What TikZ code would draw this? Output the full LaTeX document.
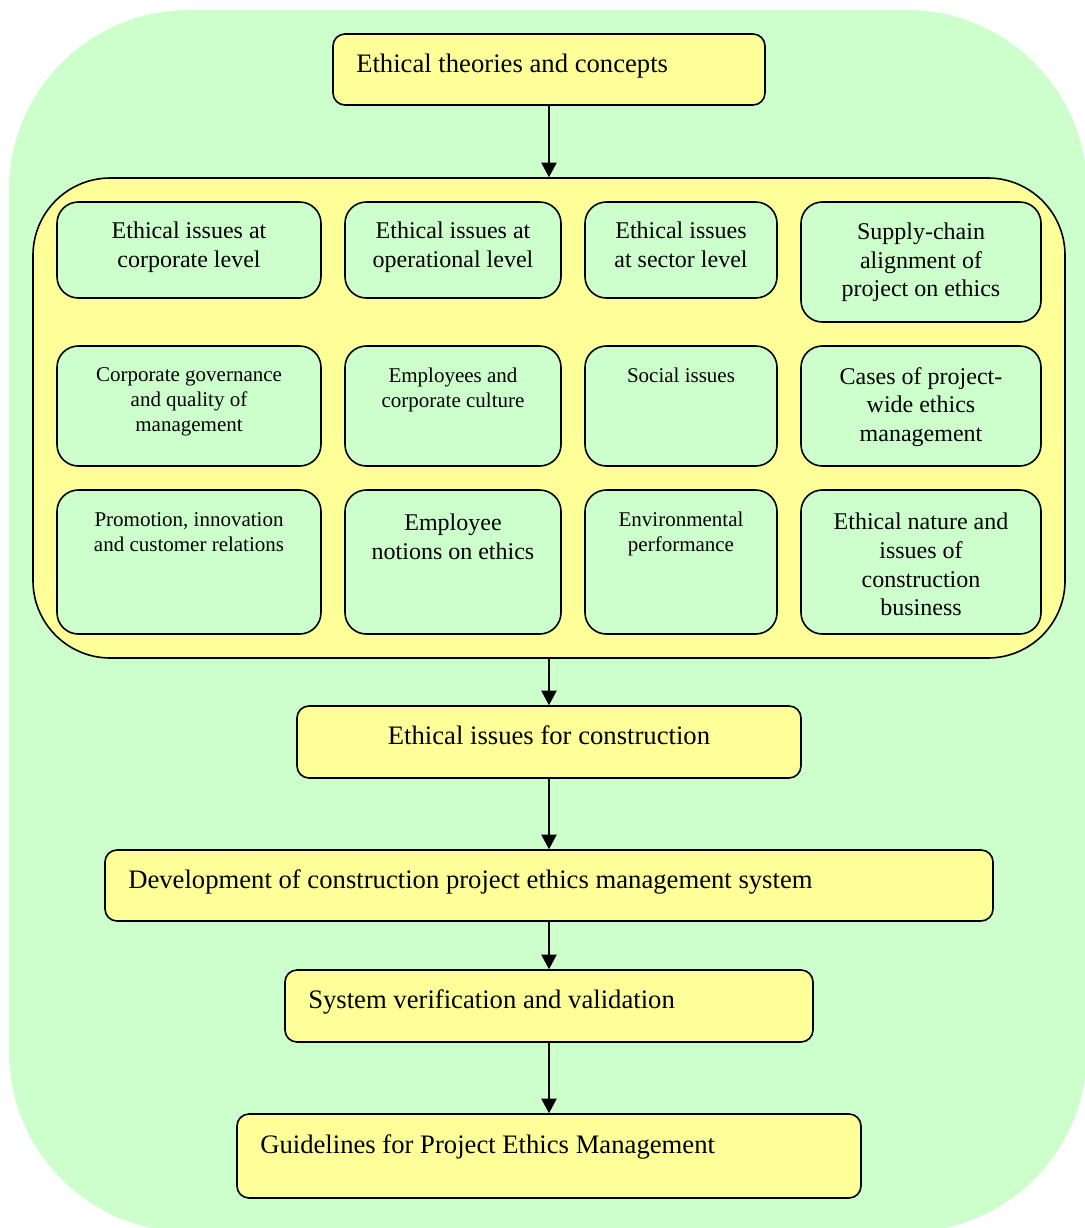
\documentclass[tikz,border=0pt]{standalone}
\usepackage{fontspec}
\setmainfont{Liberation Serif}
\usetikzlibrary{fit,arrows.meta}
\definecolor{bggreen}{RGB}{204,255,204}
\definecolor{boxyellow}{RGB}{255,255,153}
\tikzset{
  flowbox/.style={draw, line width=1.2pt, fill=boxyellow, rounded corners=9pt, inner sep=0pt},
  issuebox/.style={draw, line width=1.2pt, fill=bggreen, rounded corners=16pt, inner sep=0pt},
  bigtext/.style={inner sep=0pt, font=\fontsize{20}{24}\selectfont},
  midtext/.style={inner sep=0pt, align=center, font=\fontsize{18}{21.5}\selectfont},
  smalltext/.style={inner sep=0pt, align=center, font=\fontsize{15.75}{18.75}\selectfont},
  flowarrow/.style={-{Triangle[length=11pt,width=11.5pt]}, line width=1.1pt},
}
\begin{document}
\begin{tikzpicture}[x=0.75pt,y=0.75pt,yscale=-1,xscale=1]
                \useasboundingbox (0,0) rectangle (1085,1228);
                \clip (0,0) rectangle (1085,1228);
                \fill [bggreen, rounded corners=135pt] (9,10) rectangle (1087,1232);
                % top of the flow
                \node [flowbox, fit={(333,34) (765,105)}] (theory) {};
                \node [bigtext, anchor=base west] (theorytxt) at (356,72) {Ethical theories and concepts};
                \node [flowbox, rounded corners=58pt, fit={(33,178) (1065,658)}] (issues) {};
                % first row
                \node [issuebox, fit={(57,202) (321,298)}] (corporate) {};
                \node [midtext, anchor=north] (corporatetxt) at (189,222) {Ethical issues at\\corporate level};
                \node [issuebox, fit={(345,202) (561,298)}] (operational) {};
                \node [midtext, anchor=north] (operationaltxt) at (453,222) {Ethical issues at\\operational level};
                \node [issuebox, fit={(585,202) (777,298)}] (sector) {};
                \node [midtext, anchor=north] (sectortxt) at (681,222) {Ethical issues\\at sector level};
                \node [issuebox, fit={(801,202) (1041,322)}] (supply) {};
                \node [midtext, anchor=north] (supplytxt) at (921,222.5) {Supply-chain\\alignment of\\project on ethics};
                % second row
                \node [issuebox, fit={(57,346) (321,466)}] (governance) {};
                \node [smalltext, anchor=north] (governancetxt) at (189,367.5) {Corporate governance\\and quality of\\management};
                \node [issuebox, fit={(345,346) (561,466)}] (culture) {};
                \node [smalltext, anchor=north] (culturetxt) at (453,367.5) {Employees and\\corporate culture};
                \node [issuebox, fit={(585,346) (777,466)}] (social) {};
                \node [smalltext, anchor=north] (socialtxt) at (681,367.5) {Social issues};
                \node [issuebox, fit={(801,346) (1041,466)}] (cases) {};
                \node [midtext, anchor=north] (casestxt) at (921,367) {Cases of project-\\wide ethics\\management};
                % third row
                \node [issuebox, fit={(57,490) (321,634)}] (promotion) {};
                \node [smalltext, anchor=north] (promotiontxt) at (189,512) {Promotion, innovation\\and customer relations};
                \node [issuebox, fit={(345,490) (561,634)}] (notions) {};
                \node [midtext, anchor=north] (notionstxt) at (453,513.5) {Employee\\notions on ethics};
                \node [issuebox, fit={(585,490) (777,634)}] (environment) {};
                \node [smalltext, anchor=north] (environmenttxt) at (681,512) {Environmental\\performance};
                \node [issuebox, fit={(801,490) (1041,634)}] (nature) {};
                \node [midtext, anchor=north] (naturetxt) at (921,513) {Ethical nature and\\issues of\\construction\\business};
                % rest of the flow
                \node [flowbox, fit={(297,706) (801,778)}] (construction) {};
                \node [bigtext, anchor=base] (constructiontxt) at (549,744) {Ethical issues for construction};
                \node [flowbox, fit={(105,850) (993,921)}] (development) {};
                \node [bigtext, anchor=base west] (developmenttxt) at (128,888) {Development of construction project ethics management system};
                \node [flowbox, fit={(285,970) (813,1042)}] (verification) {};
                \node [bigtext, anchor=base west] (verificationtxt) at (308,1008) {System verification and validation};
                \node [flowbox, fit={(237,1114) (861,1198)}] (guidelines) {};
                \node [bigtext, anchor=base west] (guidelinestxt) at (260,1153) {Guidelines for Project Ethics Management};
                % arrows
                \draw [flowarrow] (theory) -- (issues);
                \draw [flowarrow] (issues) -- (construction);
                \draw [flowarrow] (construction) -- (development);
                \draw [flowarrow] (development) -- (verification);
                \draw [flowarrow] (verification) -- (guidelines);
\end{tikzpicture}
\end{document}
